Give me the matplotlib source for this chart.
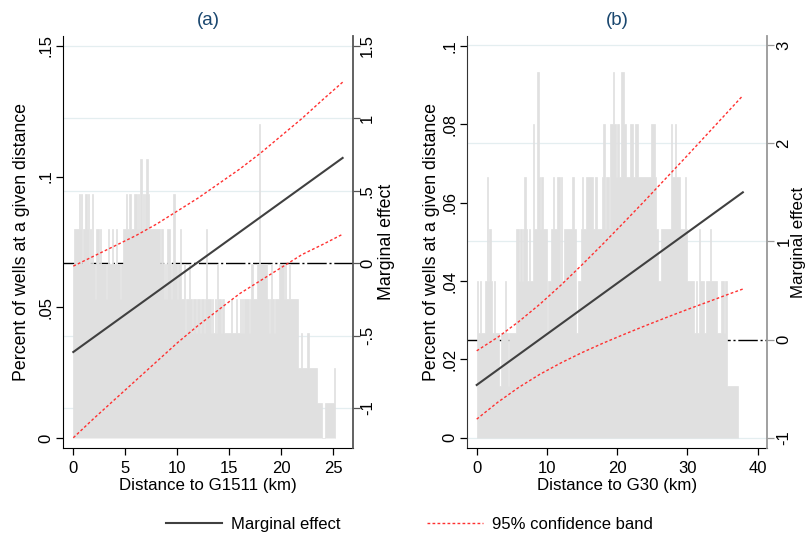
import matplotlib
matplotlib.use("Agg")
import matplotlib.pyplot as plt
import matplotlib.transforms as mtransforms
from matplotlib.lines import Line2D
import numpy as np

plt.rcParams['font.family'] = ['Liberation Sans', 'DejaVu Sans']

# share of wells per distance bin, one digit per bin, in units of 1/75
# panel (a): 0.1 km bins starting at 0
hist_a = ("5666676756" "6776756575" "5466656555" "5456555655" "5655545566"
          "6766766677" "7676886767" "8876666666" "6665665454" "6665457755"
          "4556445344" "4544344434" "4434443464" "4434334354" "4434433333"
          "3343334333" "4343444443" "4554444559" "5555554434" "5443444455"
          "5554544544" "4444442223" "2222233222" "2222111110" "0011111111"
          "12")
bin_a = 0.1
# panel (b): 0.2 km bins starting at 0
hist_b = ("3232223534" "3232221222" "3212222244" "3434543433" "6447545444"
          "2334544553" "5344444454" "4233454455" "5554554445" "6455466765"
          "6557765556" "6556655555" "5555666543" "3444444465" "5655544454"
          "3333323243" "3323334333" "3222332311" "111111")
bin_b = 0.2

# marginal effect and 95% band (right axis)
me_a_x = [0, 25.9]
me_a = [-0.613, 0.727]
ci_a_x = [0, 2, 4, 6, 8, 10, 12, 14, 16, 18, 20, 22, 24, 25.9]
ci_a_hi = [-0.02, 0.05, 0.12, 0.19, 0.27, 0.36, 0.45, 0.55, 0.65, 0.76, 0.88, 1.00, 1.13, 1.25]
ci_a_lo = [-1.205, -1.07, -0.94, -0.81, -0.68, -0.55, -0.43, -0.32, -0.21, -0.12, -0.03, 0.06, 0.13, 0.20]

me_b_x = [0, 37.9]
me_b = [-0.463, 1.499]
ci_b_x = [0, 3, 6, 9, 12, 15, 18, 21, 24, 27, 30, 33, 36, 37.9]
ci_b_hi = [-0.115, 0.023, 0.183, 0.36, 0.554, 0.761, 0.975, 1.195, 1.418, 1.646, 1.874, 2.105, 2.337, 2.484]
ci_b_lo = [-0.811, -0.639, -0.487, -0.354, -0.238, -0.133, -0.037, 0.053, 0.14, 0.224, 0.306, 0.385, 0.465, 0.514]

xt_a = [0, 5, 10, 15, 20, 25]
yl_a = [0, .05, .1, .15]
yl_a_lab = ['0', '.05', '.1', '.15']
yr_a = [-1, -.5, 0, .5, 1, 1.5]
yr_a_lab = ['-1', '-.5', '0', '.5', '1', '1.5']

xt_b = [0, 10, 20, 30, 40]
yl_b = [0, .02, .04, .06, .08, .1]
yl_b_lab = ['0', '.02', '.04', '.06', '.08', '.1']
yr_b = [-1, 0, 1, 2, 3]
yr_b_lab = ['-1', '0', '1', '2', '3']

GRAY = '#e0e0e0'
RED = '#ff3030'
ME_COL = '#404040'
TITLE_COL = '#1a476f'


def panel(ax, counts, step, me_x, me, ci_x, hi, lo, xlim, ylim_l, ylim_r,
          xt, yl, yl_lab, yr, yr_lab, xlabel, title, rcol, lcol, pads, rsize):
    lpad, llab, rpad, rlab = pads
    vals = np.array([int(c) for c in counts]) / 75
    edges = np.arange(len(vals) + 1) * step

    ax2 = ax.twinx()
    ax.set_xlim(xlim)
    ax.set_ylim(ylim_l)
    ax2.set_ylim(ylim_r)

    # grid and zero line sit behind the histogram
    tr = mtransforms.blended_transform_factory(ax.transAxes, ax2.transData)
    for t in yr:
        if t != 0:
            ax.add_line(Line2D([0, 1], [t, t], transform=tr, color='#e4eef0',
                               lw=0.9, zorder=0))
    ax.add_line(Line2D([0, 1], [0, 0], transform=tr, color='black', lw=1.0,
                       dashes=(14, 2, 1.5, 2), zorder=1))

    ax.stairs(vals, edges, fill=True, facecolor=GRAY, edgecolor=GRAY,
              lw=0.5, zorder=2)

    ax2.plot(ci_x, hi, color=RED, lw=1.0, dashes=(2, 1.6))
    ax2.plot(ci_x, lo, color=RED, lw=1.0, dashes=(2, 1.6))
    ax2.plot(me_x, me, color=ME_COL, lw=1.5)

    ax.set_xticks(xt)
    ax.set_yticks(yl)
    ax.set_yticklabels(yl_lab, rotation=90, va='center')
    ax2.set_yticks(yr)
    ax2.set_yticklabels(yr_lab, rotation=90, va='center')

    for s in ['top', 'right']:
        ax.spines[s].set_visible(False)
    for s in ['top', 'left', 'bottom']:
        ax2.spines[s].set_visible(False)
    ax.spines['left'].set_color(lcol)
    ax.spines['bottom'].set_color('black')
    ax2.spines['right'].set_color(rcol)
    ax2.spines['right'].set_linewidth(1.3)

    ax.tick_params(axis='both', labelsize=12, length=5, width=0.9, pad=4)
    ax.tick_params(axis='y', pad=lpad)
    ax2.tick_params(axis='y', labelsize=12, length=5, width=0.9, pad=rpad, color=rcol)

    ax.set_xlabel(xlabel, fontsize=12.2, labelpad=2)
    ax.set_ylabel('Percent of wells at a given distance', fontsize=12.8, labelpad=llab)
    ax2.set_ylabel('Marginal effect', fontsize=rsize, labelpad=rlab)
    ax.set_title(title, fontsize=13.5, color=TITLE_COL, pad=8)


fig = plt.figure(figsize=(8.11, 5.37), dpi=100)
ax_a = fig.add_axes([0.0777, 0.1657, 0.3576, 0.7673])
ax_b = fig.add_axes([0.5762, 0.1657, 0.3692, 0.7673])

panel(ax_a, hist_a, bin_a, me_a_x, me_a, ci_a_x, ci_a_hi, ci_a_lo,
      (-0.99, 26.9), (-0.00383, 0.1538), (-1.276, 1.569),
      xt_a, yl_a, yl_a_lab, yr_a, yr_a_lab, 'Distance to G1511 (km)', '(a)',
      '#555555', 'black', (2, 6, 0, 2), 12.8)
panel(ax_b, hist_b, bin_b, me_b_x, me_b, ci_b_x, ci_b_hi, ci_b_lo,
      (-1.34, 41.3), (-0.00263, 0.1026), (-1.105, 3.091),
      xt_b, yl_b, yl_b_lab, yr_b, yr_b_lab, 'Distance to G30 (km)', '(b)',
      '#999999', '#333333', (2, 2, 2, 0), 12.2)

handles = [Line2D([], [], color=ME_COL, lw=1.5),
           Line2D([], [], color=RED, lw=1.0, dashes=(2, 1.6))]
fig.legend(handles, ['Marginal effect', '95% confidence band'],
           loc='center', bbox_to_anchor=(0.505, 0.024), ncol=2, frameon=False,
           fontsize=12, handlelength=3.35, columnspacing=5.2, handletextpad=0.55)

fig.savefig('out.png', dpi=100)
